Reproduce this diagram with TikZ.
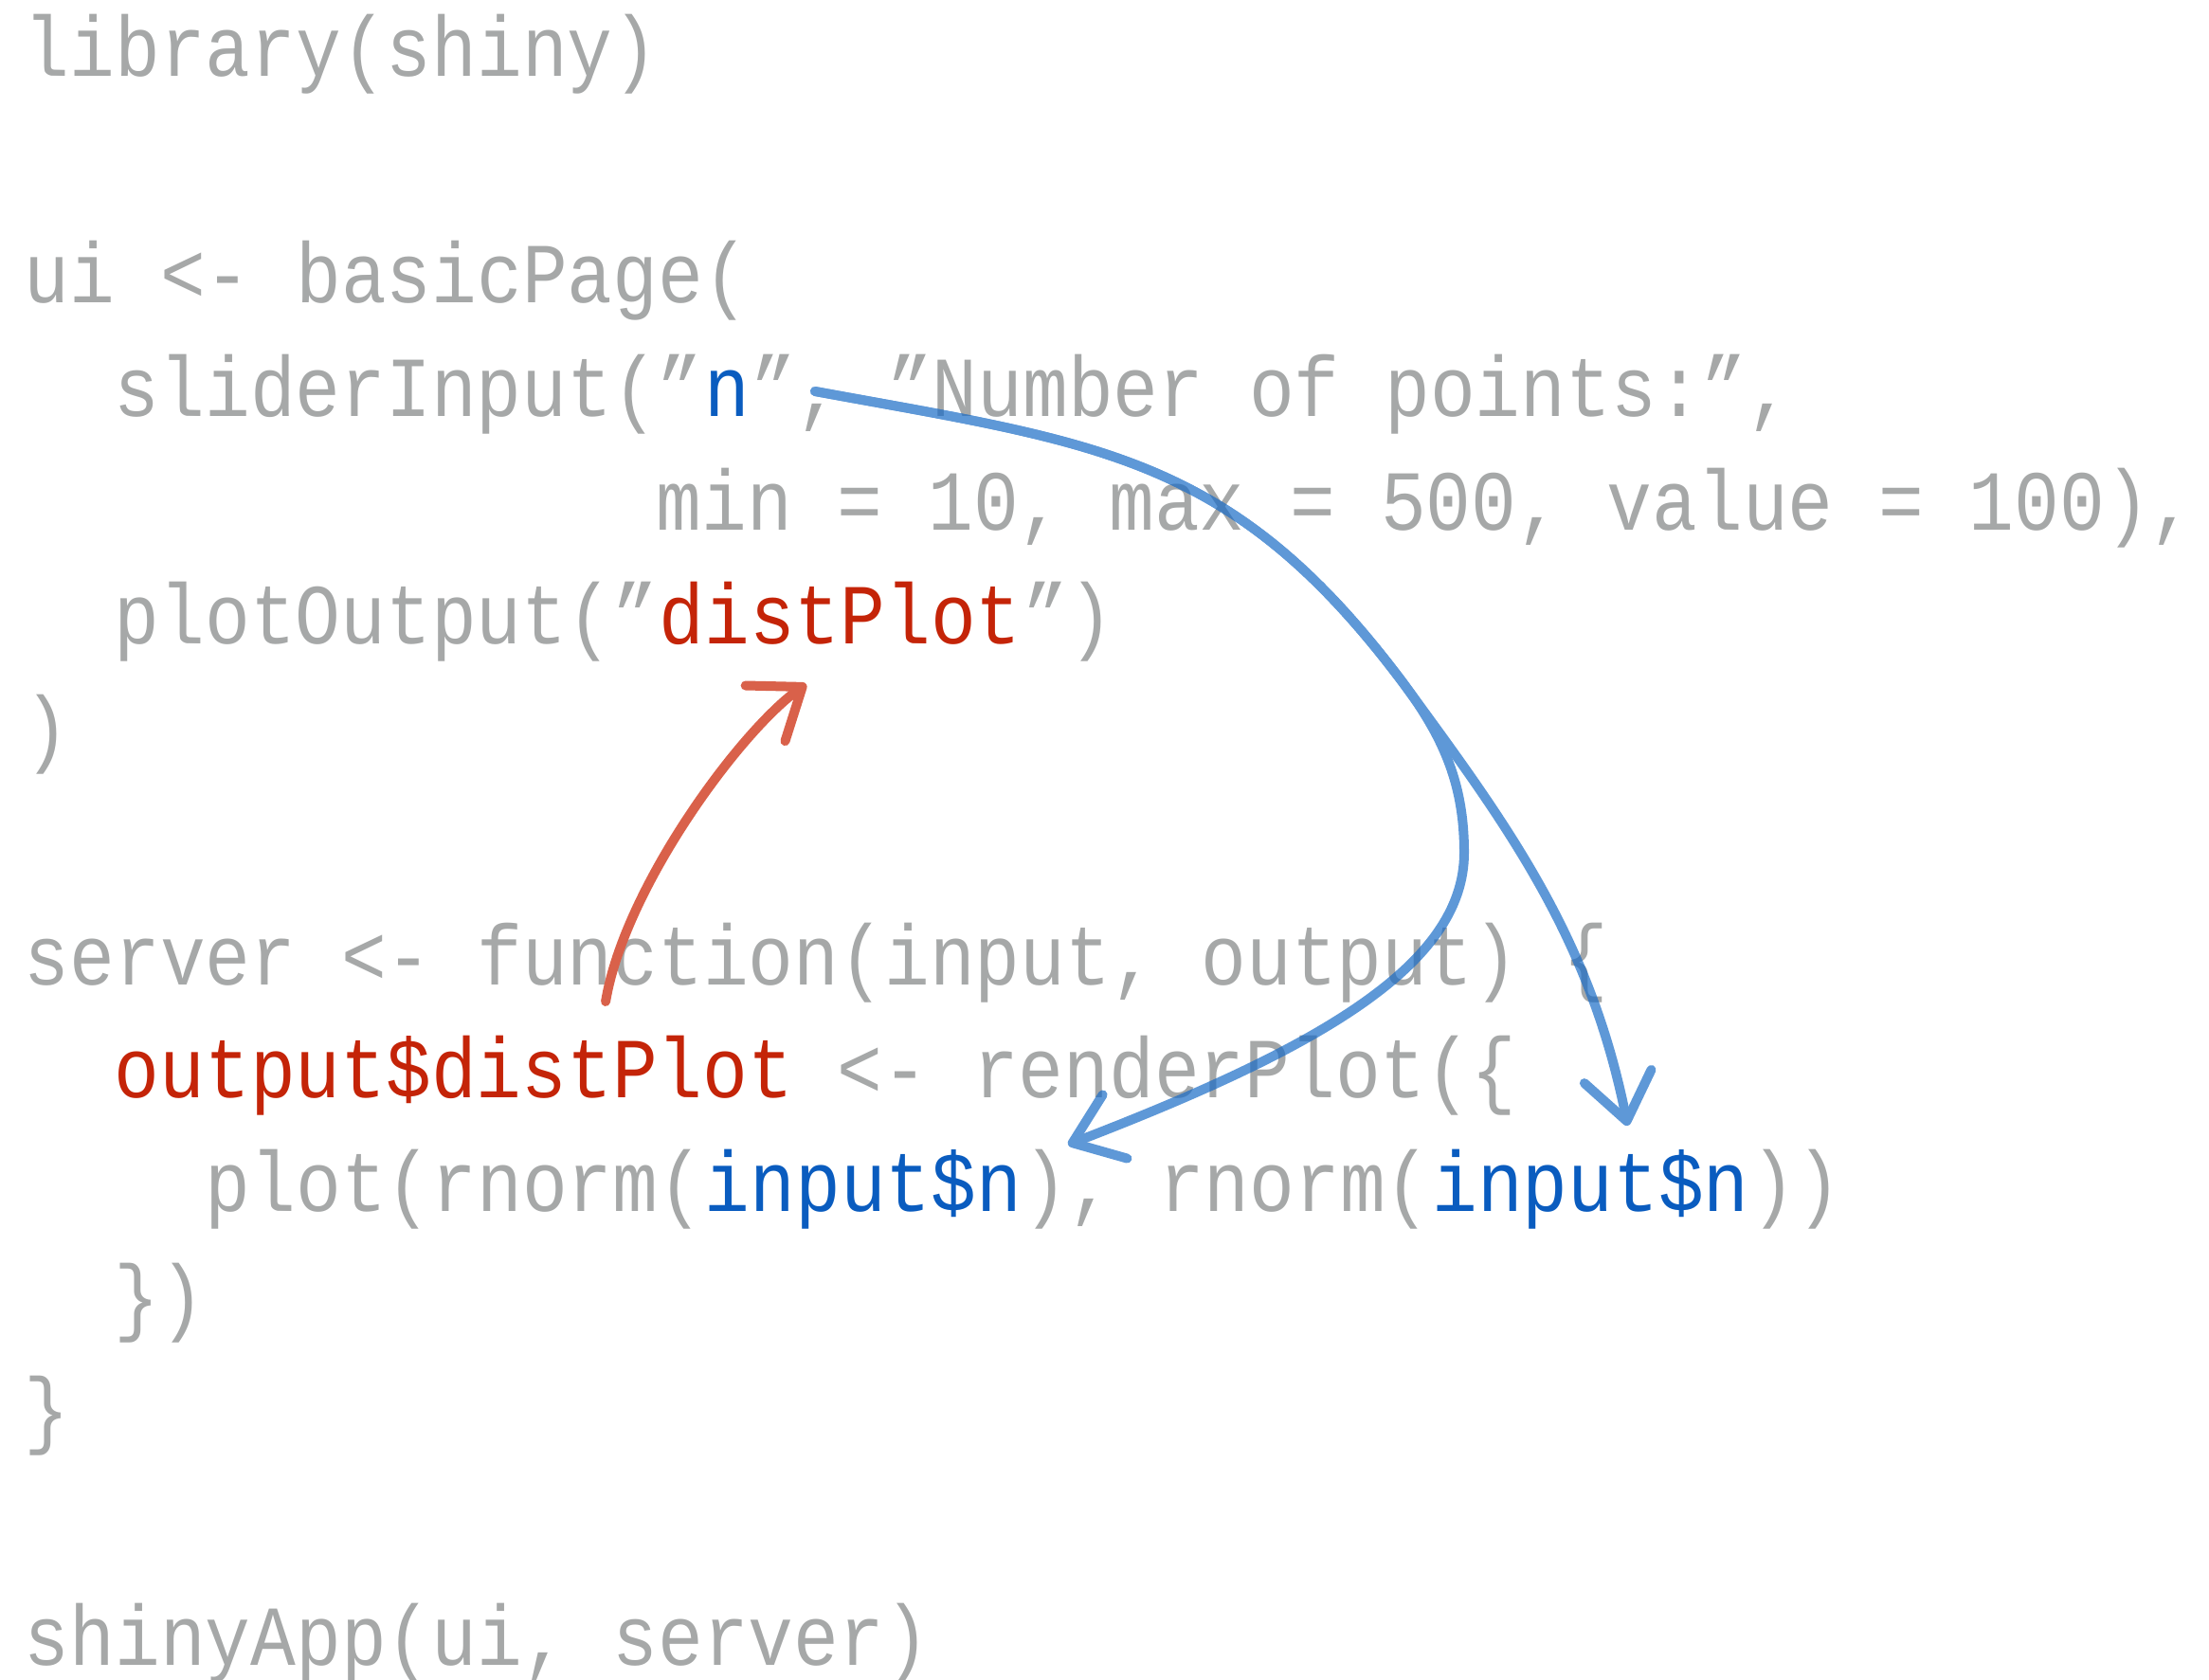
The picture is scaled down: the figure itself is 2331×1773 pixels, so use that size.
\documentclass[tikz,border=0pt]{standalone}
\usepackage{fontspec}
\usetikzlibrary{arrows.meta}

\newfontfamily\codefont[FakeStretch=0.8825]{Liberation Mono}
\newcommand{\codesize}{\codefont\fontsize{22.55pt}{27pt}\selectfont\frenchspacing}

\definecolor{codegray}{HTML}{A6A8A8}
\definecolor{inblue}{HTML}{0A5CBF}
\definecolor{outred}{HTML}{C42408}
\definecolor{redink}{HTML}{D9614A}
\definecolor{blueink}{HTML}{1A6CC6}

\begin{document}
\begin{tikzpicture}[x=0.25pt,y=-0.25pt,
    code/.style={font=\codesize,text=codegray,inner sep=0pt,anchor=base west},
    inarg/.style={code,text=inblue},
    outarg/.style={code,text=outred},
    pen/.style={line width=2.5pt,line cap=round,line join=round,
                -{Straight Barb[length=12pt,width=18pt,round]}},
    redpen/.style={pen,draw=redink},
    bluepen/.style={pen,draw=blueink}]

  \useasboundingbox (0,0) rectangle (2331,1773);

  % the app, one line every 119.7px
  \node[code]   (l1)     at (25,81)         {library(shiny)};
  \node[code]   (l3)     at (25,320)        {ui <- basicPage(};
  \node[code]   (l4)     at (120,440)       {sliderInput(”};
  \node[inarg]  (n)      at (l4.base east)  {n};
  \node[code]   (l4b)    at (n.base east)   {”, ”Number of points:”,};
  \node[code]   (l5)     at (692,560)       {min = 10, max = 500, value = 100),};
  \node[code]   (l6)     at (120,680)       {plotOutput(”};
  \node[outarg] (plotid) at (l6.base east)  {distPlot};
  \node[code]   (l6b)    at (plotid.base east) {”)};
  \node[code]   (l7)     at (25,799)        {)};

  \node[code]   (l9)     at (25,1039)       {server <- function(input, output) \{};
  \node[outarg] (outid)  at (120,1158)      {output\$distPlot};
  \node[code]   (l10)    at (883,1158)      {<- renderPlot(\{};
  \node[code]   (l11)    at (216,1278)      {plot(rnorm(};
  \node[inarg]  (inA)    at (l11.base east) {input\$n};
  \node[code]   (l11b)   at (inA.base east) {), rnorm(};
  \node[inarg]  (inB)    at (l11b.base east) {input\$n};
  \node[code]   (l11c)   at (inB.base east) {))};
  \node[code]   (l12)    at (120,1398)      {\})};
  \node[code]   (l13)    at (25,1517)       {\}};

  \node[code]   (l15)    at (25,1757)       {shinyApp(ui, server)};

  % pencil arrows
  \coordinate (nsrc)  at ([shift={(68,-27)}]n.base east);
  \coordinate (split) at (1480,720);
  \coordinate (bulge) at (1545,900);

  \draw[redpen] ([shift={(160,-101)}]outid.base)
      .. controls +(20,-120) and +(-70,50) .. ([shift={(-36,42)}]plotid.base);
  \begin{scope}[transparency group,opacity=0.7]
    \draw[bluepen] (nsrc)
        .. controls +(300,55) and +(-180,-240) .. (split)
        .. controls +(110,150) and +(-40,-200) .. ([shift={(39,-90)}]inB.base);
    \draw[bluepen] (nsrc)
        .. controls +(300,55) and +(-180,-240) .. (split)
        .. controls +(45,60) and +(0,-70) .. (bulge)
        .. controls +(0,120) and +(260,-100) .. ([shift={(48,-70)}]inA.base east);
  \end{scope}
\end{tikzpicture}
\end{document}
